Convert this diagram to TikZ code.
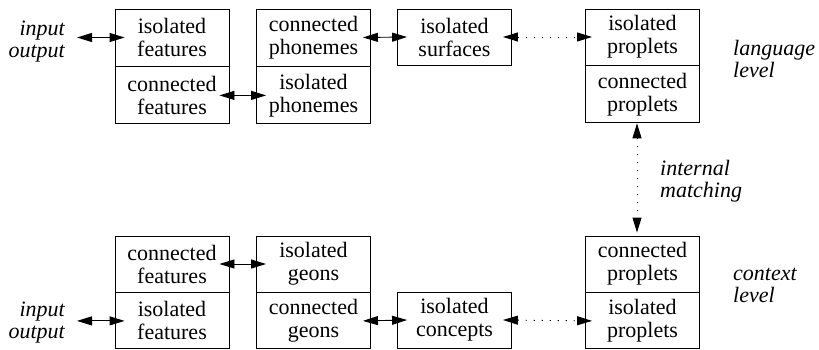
\documentclass[tikz,border=0pt]{standalone}
\usepackage{fontspec}
\setmainfont{Liberation Serif}
\usetikzlibrary{arrows.meta}
\begin{document}
\begin{tikzpicture}[x=1pt,y=-1pt,
  cell/.style={draw, line width=0.9pt, minimum width=114pt, minimum height=57pt, inner sep=0pt, align=center, font=\rmfamily\fontsize{22}{23}\selectfont},
  cellb/.style={cell, minimum height=56pt},
  lab/.style={inner sep=0pt, font=\rmfamily\itshape\fontsize{22}{22}\selectfont, execute at begin node={\rule{0pt}{16pt}}},
  dbl/.style={line width=0.9pt, arrows={Triangle[length=15pt,width=9pt]-Triangle[length=15pt,width=9pt]}},
  dotl/.style={dbl, dash pattern=on 1.2pt off 6.8pt}
]
\useasboundingbox (0,0) rectangle (819,350);
% top row
\node[cell] (t1a) at (172,37.5) {isolated\\features};
\node[cell, anchor=north] (t1b) at (t1a.south) {connected\\features};
\node[cell] (t2a) at (313.5,37.5) {connected\\phonemes};
\node[cell, anchor=north] (t2b) at (t2a.south) {isolated\\phonemes};
\node[cell, minimum height=56pt] (t3) at (454.5,37) {isolated\\surfaces};
\node[cell, minimum height=56pt] (t4a) at (642.5,37) {isolated\\proplets};
\node[cell, anchor=north] (t4b) at (t4a.south) {connected\\proplets};
% bottom row
\node[cellb] (b1a) at (172,264) {connected\\features};
\node[cellb, anchor=north] (b1b) at (b1a.south) {isolated\\features};
\node[cellb] (b2a) at (313.5,264) {isolated\\geons};
\node[cellb, anchor=north] (b2b) at (b2a.south) {connected\\geons};
\node[cellb] (b3) at (454.5,320) {isolated\\concepts};
\node[cellb] (b4a) at (642.5,264) {connected\\proplets};
\node[cellb, anchor=north] (b4b) at (b4a.south) {isolated\\proplets};
% labels
\node[lab, anchor=north east, align=right] (io1) at (65,21) {input\\output};
\node[lab, anchor=north east, align=right] (io2) at (65,302) {input\\output};
\node[lab, anchor=north west, align=left] (ll) at (733,40) {language\\level};
\node[lab, anchor=north west, align=left] (cl) at (733,268) {context\\level};
\node[lab, anchor=north west, align=left] (im) at (660,160) {internal\\matching};
% connectors
\draw[dbl] ([xshift=12pt]io1.east |- t1a.west) -- ([xshift=10pt]t1a.west);
\draw[dbl] ([xshift=-10pt]t1b.east) -- ([xshift=10pt]t2b.west);
\draw[dbl] ([xshift=-8pt]t2a.east) -- ([xshift=10pt]t3.west);
\draw[dotl] ([xshift=-9pt]t3.east) -- ([xshift=7pt]t4a.west |- t3.east);
\draw[dotl] ([xshift=-5.5pt]t4b.south) -- ([xshift=-5.5pt, yshift=3pt]b4a.north);
\draw[dbl] ([xshift=12pt]io2.east |- b1b.west) -- ([xshift=10pt]b1b.west);
\draw[dbl] ([xshift=-10pt]b1a.east) -- ([xshift=10pt]b2a.west);
\draw[dbl] ([xshift=-8pt]b2b.east) -- ([xshift=10pt]b3.west);
\draw[dotl] ([xshift=-9pt]b3.east) -- ([xshift=7pt]b4b.west);
\end{tikzpicture}
\end{document}
